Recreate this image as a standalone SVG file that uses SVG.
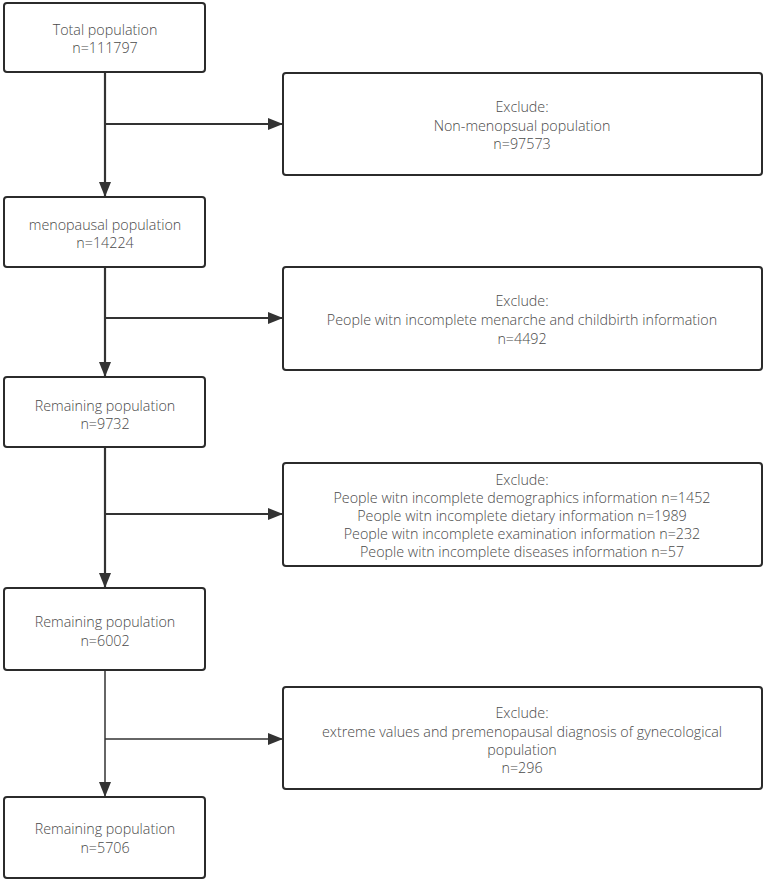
<svg xmlns="http://www.w3.org/2000/svg" width="765" height="881" viewBox="0 0 765 881">
<style>
.box{fill:#fff;stroke:#2b2b2b;stroke-width:2}
.t{font-family:"Open Sans","DejaVu Sans",sans-serif;font-weight:300;font-size:14.3px;fill:#4a4a4a;text-anchor:middle}
.c{stroke:#333;stroke-width:2.2;fill:none}
.c2{stroke:#333;stroke-width:1.5;fill:none}
</style>
<defs>
<marker id="ah" markerWidth="15" markerHeight="12" refX="15" refY="6" orient="auto" markerUnits="userSpaceOnUse">
<path d="M0,0 L15,6 L0,12 Z" fill="#333"/>
</marker>
</defs>
<g id="connectors">
<path class="c" d="M105,72 V197" marker-end="url(#ah)"/>
<path class="c" d="M105,124 H283" marker-end="url(#ah)"/>
<path class="c" d="M105,267 V377" marker-end="url(#ah)"/>
<path class="c" d="M105,318 H283" marker-end="url(#ah)"/>
<path class="c" d="M105,447 V588" marker-end="url(#ah)"/>
<path class="c" d="M105,514 H283" marker-end="url(#ah)"/>
<path class="c2" d="M105,670 V797" marker-end="url(#ah)"/>
<path class="c2" d="M105,739 H283" marker-end="url(#ah)"/>
</g>
<g id="n1"><rect class="box" x="4" y="3" width="201" height="69" rx="3"/>
<text class="t" x="105" y="35">Total population</text><text class="t" x="105" y="53">n=111797</text></g>
<g id="e1"><rect class="box" x="283" y="73" width="479" height="102" rx="3"/>
<text class="t" x="522" y="112">Exclude:</text><text class="t" x="522" y="131">Non-menopsual population</text><text class="t" x="522" y="149">n=97573</text></g>
<g id="n2"><rect class="box" x="4" y="197" width="201" height="70" rx="3"/>
<text class="t" x="105" y="230">menopausal population</text><text class="t" x="105" y="248">n=14224</text></g>
<g id="e2"><rect class="box" x="283" y="267" width="479" height="103" rx="3"/>
<text class="t" x="522" y="306">Exclude:</text><text class="t" x="522" y="325">People witn incomplete menarche and childbirth information</text><text class="t" x="522" y="344">n=4492</text></g>
<g id="n3"><rect class="box" x="4" y="377" width="201" height="70" rx="3"/>
<text class="t" x="105" y="411">Remaining population</text><text class="t" x="105" y="429">n=9732</text></g>
<g id="e3"><rect class="box" x="283" y="463" width="479" height="103" rx="3"/>
<text class="t" x="522" y="485">Exclude:</text><text class="t" x="522" y="503">People witn incomplete demographics information n=1452</text><text class="t" x="522" y="521">People witn incomplete dietary information n=1989</text><text class="t" x="522" y="539">People witn incomplete examination information n=232</text><text class="t" x="522" y="557">People witn incomplete diseases information n=57</text></g>
<g id="n4"><rect class="box" x="4" y="588" width="201" height="82" rx="3"/>
<text class="t" x="105" y="627">Remaining population</text><text class="t" x="105" y="646">n=6002</text></g>
<g id="e4"><rect class="box" x="283" y="687" width="479" height="102" rx="3"/>
<text class="t" x="522" y="718">Exclude:</text><text class="t" x="522" y="737">extreme values and premenopausal diagnosis of gynecological</text><text class="t" x="522" y="755">population</text><text class="t" x="522" y="773">n=296</text></g>
<g id="n5"><rect class="box" x="4" y="797" width="201" height="81" rx="3"/>
<text class="t" x="105" y="834">Remaining population</text><text class="t" x="105" y="853">n=5706</text></g>
</svg>
